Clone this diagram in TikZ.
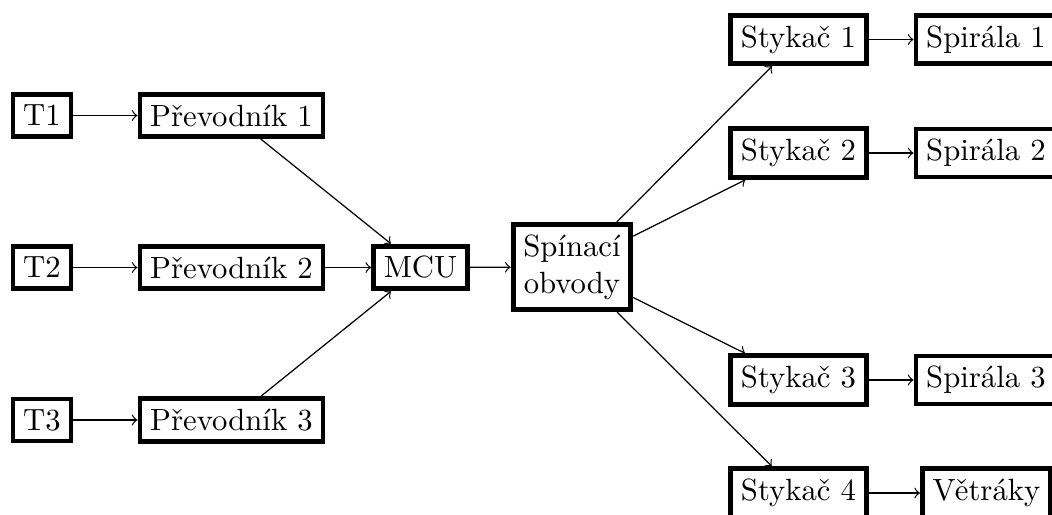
\documentclass[tikz,border=0pt]{standalone}
\begin{document}
\begin{tikzpicture}[x=0.3257pt,y=-0.3257pt,
  blok/.style={draw,ultra thick,fill=white},
  spoj/.style={->}]
\useasboundingbox (0,0) rectangle (1052,515);
\node[blok] (t1) at (42,115.5) {T1};
\node[blok] (t2) at (42,267.5) {T2};
\node[blok] (t3) at (42,420) {T3};
\node[blok] (p1) at (231.5,115.5) {Převodník 1};
\node[blok] (p2) at (231.5,267.5) {Převodník 2};
\node[blok] (p3) at (231.5,420) {Převodník 3};
\node[blok] (mcu) at (420.5,267.5) {MCU};
\node[blok,align=center] (sp) at (572,267) {Spínací\\obvody};
\node[blok] (k1) at (798.5,39.5) {Stykač 1};
\node[blok] (k2) at (798.5,153) {Stykač 2};
\node[blok] (k3) at (798.5,380) {Stykač 3};
\node[blok] (k4) at (798.5,493) {Stykač 4};
\node[blok] (s1) at (986,39.5) {Spirála 1};
\node[blok] (s2) at (986,153) {Spirála 2};
\node[blok] (s3) at (986,380) {Spirála 3};
\node[blok] (v) at (986.5,493) {Větráky};
\draw[spoj] (t1) -- (p1);
\draw[spoj] (t2) -- (p2);
\draw[spoj] (t3) -- (p3);
\draw[spoj] (p1) -- (mcu);
\draw[spoj] (p2) -- (mcu);
\draw[spoj] (p3) -- (mcu);
\draw[spoj] (mcu) -- (sp);
\draw[spoj] (sp) -- (k1);
\draw[spoj] (sp) -- (k2);
\draw[spoj] (sp) -- (k3);
\draw[spoj] (sp) -- (k4);
\draw[spoj] (k1) -- (s1);
\draw[spoj] (k2) -- (s2);
\draw[spoj] (k3) -- (s3);
\draw[spoj] (k4) -- (v);
\end{tikzpicture}
\end{document}
